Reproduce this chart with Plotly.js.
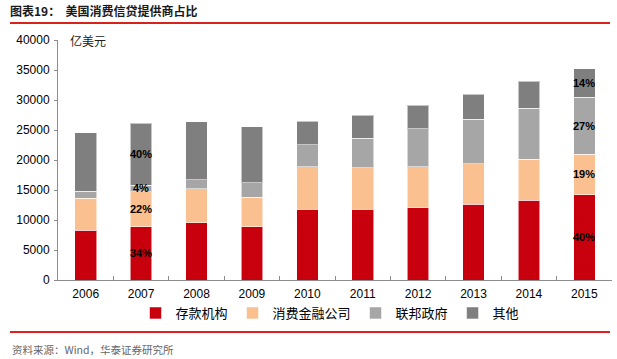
<!DOCTYPE html>
<html>
<head>
<meta charset="utf-8">
<script src="https://cdn.plot.ly/plotly-3.0.1.min.js"></script>
<style>html,body{margin:0;padding:0;background:#fff;}#chart{width:617px;height:359px;}</style>
</head>
<body>
<div id="chart"></div>
<script>
const years = ['2006','2007','2008','2009','2010','2011','2012','2013','2014','2015'];
const seriesNames = ['存款机构','消费金融公司','联邦政府','其他'];
const deposit  = [8330, 8890, 9560, 8890, 11780, 11830, 12060, 12610, 13330, 14170];
const finance  = [5330, 5830, 5610, 4940, 7110, 6890, 6830, 6780, 6830, 6830];
const federal  = [1170, 1110, 1500, 2390, 3670, 4890, 6280, 7440, 8440, 9440];
const others   = [9720, 10280, 9720, 9330, 3890, 3890, 3940, 4110, 4500, 4780];
const pctDeposit = ['', '34%', '', '', '', '', '', '', '', '40%'];
const pctFinance = ['', '22%', '', '', '', '', '', '', '', '19%'];
const pctFederal = ['', '4%', '', '', '', '', '', '', '', '27%'];
const pctOthers  = ['', '40%', '', '', '', '', '', '', '', '14%'];
const yTickVals = [0,5000,10000,15000,20000,25000,30000,35000,40000];

const colors = ['#C8000E', '#FAC090', '#A6A6A6', '#7F7F7F'];
const series = [deposit, finance, federal, others];
const pcts = [pctDeposit, pctFinance, pctFederal, pctOthers];

const cjk = '"Noto Sans CJK SC", "Noto Sans", sans-serif';
const latin = '"Liberation Sans", Arial, sans-serif';

const traces = series.map((vals, i) => ({
  type: 'bar',
  name: seriesNames[i],
  x: years,
  y: vals,
  marker: {color: colors[i], line: {color: 'rgba(255,255,255,0.55)', width: 1}},
  hoverinfo: 'none'
}));

const annotations = [];
years.forEach((yr, j) => {
  let base = 0;
  series.forEach((vals, i) => {
    const t = pcts[i][j];
    if (t) {
      annotations.push({
        x: j, y: base + vals[j] / 2, xref: 'x', yref: 'y',
        text: '<b>' + t + '</b>', showarrow: false,
        font: {family: latin, size: 11, color: '#000'}
      });
    }
    base += vals[j];
  });
});

annotations.push({
  text: '亿美元', xref: 'paper', yref: 'paper', x: (68 - 58) / 554, y: 1,
  xanchor: 'left', yanchor: 'middle', showarrow: false,
  font: {family: cjk, size: 12, color: '#222'}
});
annotations.push({
  text: '资料来源：Wind，华泰证券研究所', xref: 'paper', yref: 'paper',
  x: (10 - 58) / 554, y: (280 - 349) / 240,
  xanchor: 'left', yanchor: 'middle', showarrow: false,
  font: {family: cjk, size: 10.5, color: '#666'}
});

const layout = {
  width: 617, height: 359,
  margin: {l: 58, r: 5, t: 40, b: 79, pad: 0, autoexpand: false},
  paper_bgcolor: '#fff', plot_bgcolor: '#fff',
  barmode: 'stack', bargap: 0.61,
  showlegend: true,
  title: {
    text: '<b>图表19：  美国消费信贷提供商占比</b>',
    xref: 'container', yref: 'container',
    x: 10 / 617, xanchor: 'left', y: 1 - 12 / 359, yanchor: 'middle',
    font: {family: cjk, size: 12, color: '#1a1a1a'}
  },
  xaxis: {
    type: 'category', range: [-0.5, 9.5],
    showline: true, linecolor: '#8c8c8c', linewidth: 1,
    ticks: 'inside', tickson: 'boundaries', ticklen: 4, tickcolor: '#8c8c8c',
    tickfont: {family: latin, size: 12, color: '#000'}, tickangle: 0,
    ticklabelstandoff: 3,
    showgrid: false, zeroline: false, fixedrange: true
  },
  yaxis: {
    range: [0, 40000], tickvals: yTickVals, tickformat: 'd',
    showline: true, linecolor: '#8c8c8c', linewidth: 1,
    ticks: 'outside', ticklen: 3, tickcolor: '#8c8c8c',
    tickfont: {family: latin, size: 12, color: '#000'},
    ticklabelstandoff: 2,
    showgrid: false, zeroline: false, fixedrange: true
  },
  legend: {
    orientation: 'h', x: 330 / 617, xref: 'container', xanchor: 'center',
    y: 1 - 313 / 359, yref: 'container', yanchor: 'middle',
    font: {family: cjk, size: 13, color: '#000'},
    traceorder: 'normal', itemwidth: 30, bgcolor: 'rgba(0,0,0,0)'
  },
  shapes: [
    {type: 'line', xref: 'paper', yref: 'paper', x0: (10 - 58) / 554, x1: (610 - 58) / 554,
     y0: (280 - 23) / 240, y1: (280 - 23) / 240, line: {color: '#D8231B', width: 2}},
    {type: 'line', xref: 'paper', yref: 'paper', x0: (10 - 58) / 554, x1: (610 - 58) / 554,
     y0: (280 - 332) / 240, y1: (280 - 332) / 240, line: {color: '#E0201A', width: 2}}
  ],
  annotations: annotations
};

Plotly.newPlot('chart', traces, layout, {displayModeBar: false, staticPlot: true});
</script>
</body>
</html>
